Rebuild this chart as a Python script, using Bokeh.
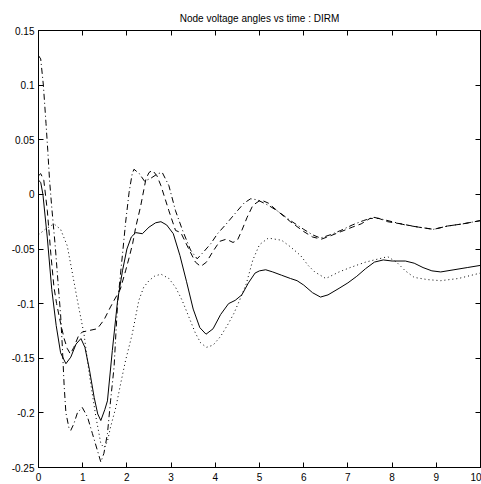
from bokeh.plotting import figure
from bokeh.models import FixedTicker, LinearAxis, Range1d
from bokeh.embed import file_html
from bokeh.resources import INLINE

# ---- data ----
solid_t = [0, 0.05, 0.1, 0.2, 0.3, 0.4, 0.5, 0.62, 0.73, 0.85, 0.96, 1.05, 1.15, 1.26, 1.34, 1.41,
           1.5, 1.56, 1.67, 1.79, 1.9, 2.0, 2.1, 2.2, 2.35, 2.5, 2.65, 2.77, 2.9, 3.05, 3.2, 3.35,
           3.5, 3.65, 3.79, 3.95, 4.12, 4.3, 4.45, 4.6, 4.75, 4.9, 5.0, 5.14, 5.3, 5.5, 5.7, 5.85,
           6.0, 6.2, 6.38, 6.55, 6.8, 7.0, 7.2, 7.4, 7.6, 7.8, 8.0, 8.3, 8.5, 8.7, 8.9, 9.1, 9.4,
           9.7, 10]
solid_y = [0.013, 0.011, 0.0, -0.04, -0.087, -0.12, -0.145, -0.155, -0.149, -0.137, -0.132, -0.14,
           -0.16, -0.186, -0.201, -0.207, -0.197, -0.189, -0.143, -0.097, -0.07, -0.05, -0.039,
           -0.035, -0.036, -0.03, -0.026, -0.025, -0.028, -0.036, -0.056, -0.08, -0.105, -0.122,
           -0.128, -0.123, -0.11, -0.1, -0.097, -0.092, -0.081, -0.072, -0.07, -0.069, -0.071,
           -0.074, -0.077, -0.079, -0.083, -0.09, -0.094, -0.092, -0.086, -0.081, -0.075, -0.068,
           -0.062, -0.06, -0.061, -0.061, -0.063, -0.067, -0.07, -0.071, -0.069, -0.067, -0.065]

dotted_t = [0, 0.15, 0.35, 0.5, 0.65, 0.78, 0.88, 1.03, 1.15, 1.3, 1.41, 1.48, 1.56, 1.63, 1.75,
            1.86, 1.97, 2.12, 2.27, 2.38, 2.5, 2.62, 2.77, 2.95, 3.1, 3.25, 3.4, 3.55, 3.67, 3.8,
            3.95, 4.12, 4.3, 4.42, 4.57, 4.7, 4.85, 5.0, 5.2, 5.5, 5.7, 5.93, 6.1, 6.25, 6.5, 6.8,
            7.05, 7.4, 7.8, 7.9, 8.1, 8.3, 8.5, 8.8, 9.1, 9.5, 9.8, 10]
dotted_y = [-0.037, -0.032, -0.027, -0.032, -0.047, -0.075, -0.097, -0.128, -0.165, -0.204, -0.228,
            -0.232, -0.226, -0.213, -0.195, -0.173, -0.152, -0.128, -0.097, -0.085, -0.079, -0.075,
            -0.073, -0.077, -0.085, -0.097, -0.112, -0.127, -0.136, -0.14, -0.138, -0.13, -0.118,
            -0.109, -0.095, -0.082, -0.06, -0.046, -0.04, -0.042, -0.048, -0.056, -0.065, -0.071,
            -0.077, -0.071, -0.067, -0.062, -0.058, -0.057, -0.062, -0.07, -0.076, -0.078, -0.079,
            -0.077, -0.074, -0.072]

dashed_t = [0, 0.05, 0.12, 0.2, 0.28, 0.35, 0.41, 0.5, 0.58, 0.65, 0.72, 0.8, 0.9, 0.99, 1.1,
            1.33, 1.48, 1.63, 1.71, 1.85, 1.97, 2.05, 2.13, 2.2, 2.31, 2.43, 2.5, 2.58, 2.68, 2.77,
            2.95, 3.1, 3.22, 3.4, 3.55, 3.67, 3.8, 3.95, 4.1, 4.25, 4.4, 4.5, 4.6, 4.72, 4.85,
            5.03, 5.2, 5.4, 5.7, 6.0, 6.2, 6.4, 6.6, 6.85, 7.1, 7.3, 7.5, 7.7, 7.9, 8.2, 8.6,
            8.94, 9.25, 9.6, 10]
dashed_y = [0.017, 0.019, 0.013, -0.015, -0.055, -0.085, -0.1, -0.118, -0.132, -0.141, -0.146,
            -0.14, -0.13, -0.126, -0.125, -0.123, -0.115, -0.103, -0.097, -0.087, -0.07, -0.058,
            -0.045, -0.03, -0.011, 0.014, 0.02, 0.022, 0.017, 0.008, -0.015, -0.033, -0.035,
            -0.05, -0.062, -0.066, -0.062, -0.052, -0.043, -0.041, -0.044, -0.042, -0.033,
            -0.021, -0.01, -0.005, -0.008, -0.015, -0.025, -0.034, -0.039, -0.041, -0.038,
            -0.034, -0.03, -0.027, -0.022, -0.022, -0.025, -0.027, -0.03, -0.032, -0.029,
            -0.027, -0.024]

dashdot_t = [0, 0.05, 0.11, 0.17, 0.21, 0.25, 0.3, 0.38, 0.45, 0.5, 0.54, 0.58, 0.62, 0.69, 0.73,
             0.8, 0.88, 0.99, 1.11, 1.22, 1.33, 1.41, 1.48, 1.56, 1.63, 1.71, 1.75, 1.79, 1.85,
             1.9, 1.97, 2.05, 2.12, 2.16, 2.28, 2.4, 2.55, 2.7, 2.8, 2.95, 3.1, 3.26, 3.44,
             3.59, 3.75, 3.9, 4.05, 4.25, 4.5, 4.65, 4.8, 4.95, 5.2, 5.4, 5.7, 6.0, 6.2, 6.38,
             6.6, 6.84, 7.1, 7.35, 7.59, 7.8, 8.0, 8.3, 8.6, 8.94, 9.25, 9.6, 10]
dashdot_y = [0.127, 0.124, 0.1, 0.065, 0.04, 0.013, -0.012, -0.048, -0.085, -0.11, -0.14, -0.175,
             -0.2, -0.214, -0.216, -0.21, -0.2, -0.195, -0.204, -0.219, -0.234, -0.245, -0.237,
             -0.219, -0.189, -0.158, -0.128, -0.1, -0.075, -0.055, -0.026, 0.002, 0.019, 0.023,
             0.019, 0.012, 0.015, 0.019, 0.02, 0.008, -0.015, -0.033, -0.051, -0.059, -0.052,
             -0.045, -0.036, -0.027, -0.015, -0.008, -0.004, -0.005, -0.01, -0.015, -0.024,
             -0.032, -0.037, -0.04, -0.037, -0.033, -0.028, -0.024, -0.021, -0.023, -0.025,
             -0.028, -0.03, -0.032, -0.029, -0.027, -0.024]

x_ticks = [0, 1, 2, 3, 4, 5, 6, 7, 8, 9, 10]
y_ticks = [-0.25, -0.2, -0.15, -0.1, -0.05, 0, 0.05, 0.1, 0.15]
y_labels = ["-0.25", "-0.2", "-0.15", "-0.1", "-0.05", "0", "0.05", "0.1", "0.15"]
title_text = "Node voltage angles vs time : DIRM"

FONT = "Liberation Sans"

p = figure(width=481, height=484, output_backend="svg", toolbar_location=None,
           x_range=Range1d(0, 10), y_range=Range1d(-0.25, 0.15),
           min_border_left=38, min_border_right=1, min_border_top=30, min_border_bottom=17,
           background_fill_color="white", border_fill_color="white")
p.grid.visible = False
p.outline_line_color = "black"
p.outline_line_width = 1

p.title.text = title_text
p.title.align = "center"
p.title.text_font = FONT
p.title.text_font_size = "10px"
p.title.text_font_style = "normal"
p.title.text_color = "black"
p.title.standoff = 13

top_axis = LinearAxis(major_label_text_color=None, major_label_text_font_size="1px",
                      major_label_standoff=0)
right_axis = LinearAxis(major_label_text_color=None, major_label_text_font_size="1px",
                        major_label_standoff=0)
p.add_layout(top_axis, "above")
p.add_layout(right_axis, "right")

for ax in p.xaxis:
    ax.ticker = FixedTicker(ticks=x_ticks)
for ax in p.yaxis:
    ax.ticker = FixedTicker(ticks=y_ticks)

left_axis = p.left[0]
bottom_axis = p.below[0]
left_axis.major_label_overrides = {t: l for t, l in zip(y_ticks, y_labels)}

for ax in (left_axis, bottom_axis, top_axis, right_axis):
    ax.major_tick_in = 5
    ax.major_tick_out = 0
    ax.minor_tick_line_color = None
    ax.axis_line_color = "black"
    ax.major_tick_line_color = "black"

for ax in (left_axis, bottom_axis):
    ax.major_label_text_font = FONT
    ax.major_label_text_font_size = "10px"
    ax.major_label_text_color = "black"

bottom_axis.major_label_standoff = 5
left_axis.major_label_standoff = 4

p.line(solid_t, solid_y, line_color="black", line_width=1)
p.line(dotted_t, dotted_y, line_color="black", line_width=1, line_dash="1 3")
p.line(dashed_t, dashed_y, line_color="black", line_width=1, line_dash="6 4")
p.line(dashdot_t, dashdot_y, line_color="black", line_width=1, line_dash="6 3 1 3")

open("out.html", "w").write(file_html(p, INLINE))
